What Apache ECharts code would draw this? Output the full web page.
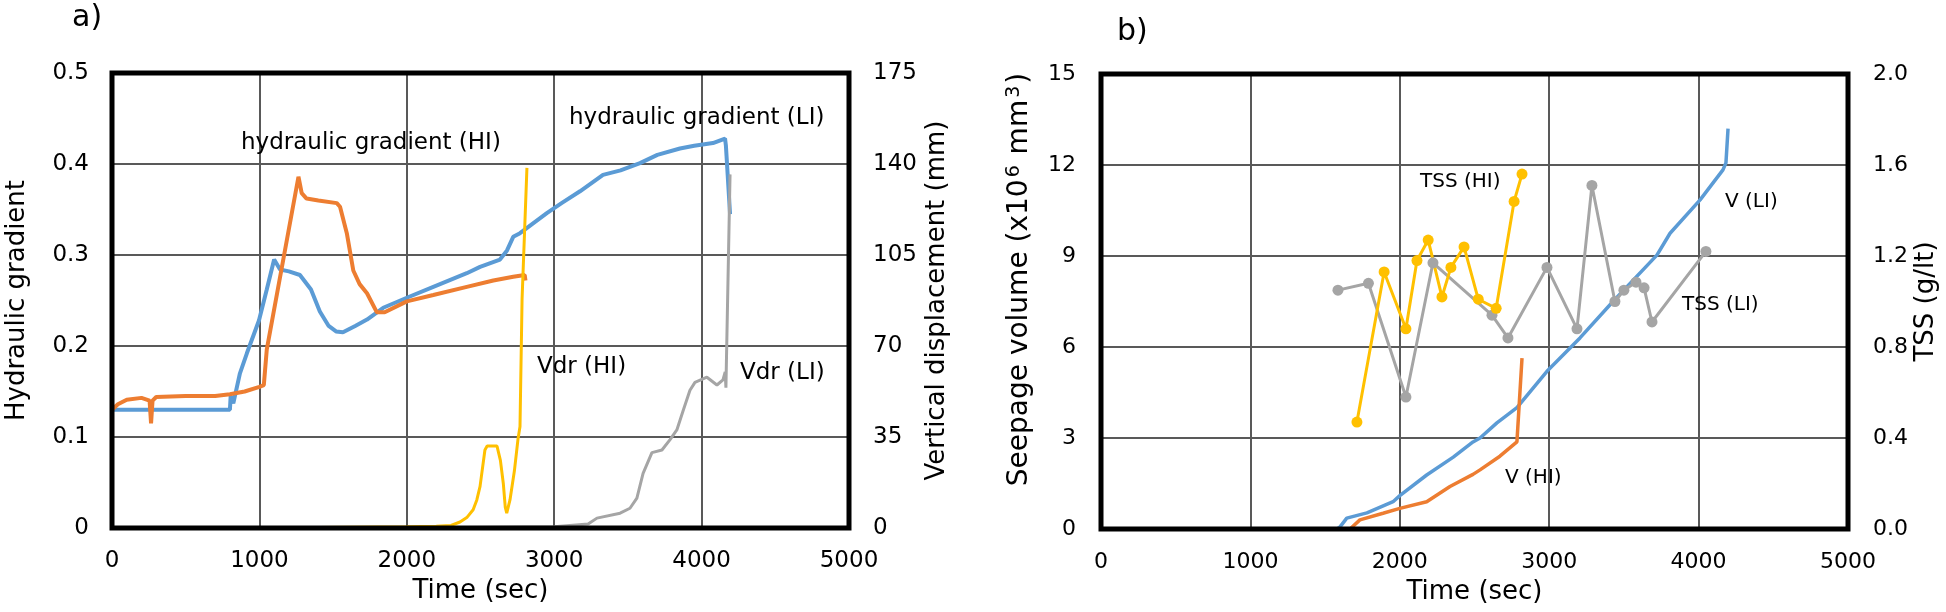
<!DOCTYPE html>
<html><head><meta charset="utf-8">
<script src="https://cdn.jsdelivr.net/npm/echarts@6/dist/echarts.min.js"></script>
<style>html,body{margin:0;padding:0;background:#fff}#c{width:1946px;height:612px}</style>
</head><body><div id="c"></div>
<script>
// ---------- Panel a) ----------
const timeGradLI = [0, 800, 805, 823, 868, 915, 997, 1050, 1100, 1140, 1200, 1275, 1350, 1410, 1470, 1520, 1567, 1650, 1730, 1840, 2000, 2180, 2407, 2497, 2632, 2680, 2722, 2768, 2850, 2950, 3050, 3175, 3331, 3450, 3582, 3700, 3853, 3950, 4077, 4159, 4165, 4193];
const gradLI     = [0.13, 0.13, 0.145, 0.137, 0.17, 0.192, 0.228, 0.262, 0.295, 0.284, 0.282, 0.278, 0.262, 0.238, 0.222, 0.216, 0.215, 0.222, 0.229, 0.242, 0.253, 0.265, 0.28, 0.287, 0.295, 0.305, 0.32, 0.324, 0.334, 0.346, 0.357, 0.37, 0.388, 0.393, 0.401, 0.41, 0.417, 0.42, 0.423, 0.428, 0.42, 0.345];

const timeGradHI = [0, 40, 100, 200, 255, 265, 275, 300, 500, 700, 800, 900, 1000, 1030, 1050, 1265, 1287, 1320, 1400, 1525, 1547, 1593, 1637, 1680, 1730, 1797, 1850, 2000, 2180, 2407, 2587, 2722, 2800, 2805];
const gradHI     = [0.13, 0.136, 0.141, 0.143, 0.14, 0.115, 0.14, 0.144, 0.145, 0.145, 0.147, 0.15, 0.155, 0.157, 0.196, 0.386, 0.368, 0.362, 0.36, 0.357, 0.353, 0.324, 0.283, 0.268, 0.258, 0.237, 0.237, 0.249, 0.256, 0.265, 0.272, 0.276, 0.278, 0.272];

const timeVdrHI = [0, 1000, 2000, 2200, 2300, 2361, 2407, 2450, 2475, 2497, 2530, 2545, 2612, 2635, 2655, 2668, 2678, 2700, 2730, 2754, 2768, 2782, 2815];
const vdrHI     = [0, 0, 0.5, 0.7, 1, 2.3, 4, 7, 10.8, 16, 30, 31.5, 31.5, 26, 17, 8, 5.7, 10.8, 22, 34, 39, 88, 138.5];

const timeVdrLI = [0, 2000, 3000, 3230, 3290, 3447, 3514, 3561, 3603, 3663, 3731, 3786, 3832, 3874, 3921, 3955, 4036, 4104, 4145, 4160, 4165, 4193];
const vdrLI     = [0, 0, 0.5, 1.5, 3.8, 5.7, 7.6, 11.5, 21, 29, 30, 34, 37.7, 45, 53, 56, 58, 55, 57, 60, 54, 136];

// ---------- Panel b) ----------
const timeVLI = [0, 1580, 1600, 1645, 1780, 1955, 2000, 2180, 2358, 2490, 2537, 2650, 2784, 2985, 3206, 3427, 3721, 3809, 4010, 4163, 4183, 4197];
const vLI     = [0, 0, 0.07, 0.36, 0.53, 0.9, 1.1, 1.78, 2.37, 2.87, 3.0, 3.5, 4.0, 5.2, 6.3, 7.5, 9.03, 9.75, 10.85, 11.84, 12.07, 13.2];

const timeVHI = [0, 1667, 1733, 1888, 2000, 2180, 2336, 2490, 2537, 2670, 2784, 2818];
const vHI     = [0, 0, 0.3, 0.52, 0.68, 0.9, 1.4, 1.8, 1.95, 2.4, 2.87, 5.63];

const timeTSSHI = [1713, 1895, 2041, 2115, 2190, 2282, 2342, 2430, 2525, 2645, 2765, 2818];
const tssHI     = [0.47, 1.13, 0.88, 1.18, 1.27, 1.02, 1.15, 1.24, 1.01, 0.97, 1.44, 1.56];

const timeTSSLI = [1586, 1790, 2041, 2222, 2617, 2724, 2985, 3186, 3286, 3440, 3500, 3581, 3635, 3688, 4049];
const tssLI     = [1.05, 1.08, 0.58, 1.17, 0.94, 0.84, 1.15, 0.88, 1.51, 1.0, 1.05, 1.085, 1.06, 0.91, 1.22];

const FONT = 'DejaVu Sans';
const BLUE = '#5B9BD5', ORANGE = '#ED7D31', YELLOW = '#FFC000', GRAY = '#A5A5A5';
const pairs = (xs, ys) => xs.map((x, i) => [x, ys[i]]);

const chart = echarts.init(document.getElementById('c'), null, {renderer: 'canvas'});

function xAx(gi, fs) {
  return {
    gridIndex: gi, type: 'value', min: 0, max: 5000, interval: 1000,
    name: 'Time (sec)', nameLocation: 'middle', nameGap: 50,
    nameTextStyle: {fontFamily: FONT, fontSize: 26, color: '#000'},
    axisLine: {show: false}, axisTick: {show: false},
    axisLabel: {fontFamily: FONT, fontSize: fs, color: '#000', margin: 22, formatter: v => String(v)},
    splitLine: {show: true, showMinLine: false, showMaxLine: false, lineStyle: {color: '#595959', width: 2}}
  };
}
function yAx(gi, pos, min, max, interval, name, gap, fs, margin, fmt, split, nameStyle) {
  return {
    gridIndex: gi, type: 'value', position: pos, min: min, max: max, interval: interval,
    name: name, nameLocation: 'middle', nameGap: gap, nameMoveOverlap: false,
    nameTextStyle: nameStyle || {fontFamily: FONT, fontSize: 26, color: '#000'},
    axisLine: {show: false}, axisTick: {show: false},
    axisLabel: {fontFamily: FONT, fontSize: fs, color: '#000', margin: margin, formatter: fmt},
    splitLine: {show: split, showMinLine: false, showMaxLine: false, lineStyle: {color: '#595959', width: 2}}
  };
}

const lineS = (xi, yi, data, color, w) => ({
  type: 'line', xAxisIndex: xi, yAxisIndex: yi, data: data, showSymbol: false, symbol: 'none',
  lineStyle: {color: color, width: w}, itemStyle: {color: color}, silent: true
});
const dotS = (xi, yi, data, color) => ({
  type: 'line', xAxisIndex: xi, yAxisIndex: yi, data: data, symbol: 'circle', symbolSize: 11, showSymbol: true,
  lineStyle: {color: color, width: 3}, itemStyle: {color: color}, silent: true
});

const txt = (text, x, y, fs) => ({
  type: 'text', x: x, y: y, z: 100,
  style: {text: text, fontFamily: FONT, fontSize: fs, fill: '#000', verticalAlign: 'middle', align: 'left'}
});

const seepageNameStyle = {
  fontFamily: FONT, fontSize: 28, color: '#000', padding: [0, 0, 0, 44],
  rich: {
    sup: {fontFamily: FONT, fontSize: 19, color: '#000', verticalAlign: 'top', lineHeight: 30, padding: [0, 2, 10, 2]}
  }
};

chart.setOption({
  animation: false,
  backgroundColor: '#fff',
  grid: [
    {left: 112, top: 73, width: 737, height: 455, show: true, borderColor: '#000', borderWidth: 5, backgroundColor: 'transparent', z: 10},
    {left: 1101, top: 74, width: 747, height: 455, show: true, borderColor: '#000', borderWidth: 5, backgroundColor: 'transparent', z: 10}
  ],
  xAxis: [xAx(0, 23), xAx(1, 22)],
  yAxis: [
    yAx(0, 'left', 0, 0.5, 0.1, 'Hydraulic gradient', 82, 23, 23, v => v === 0 ? '0' : v.toFixed(1), true),
    yAx(0, 'right', 0, 175, 35, 'Vertical displacement (mm)', 75, 23, 24, v => String(Math.round(v)), false),
    yAx(1, 'left', 0, 15, 3, 'Seepage volume (x10{sup|6} mm{sup|3})', 66, 22, 25, v => String(Math.round(v)), true, seepageNameStyle),
    yAx(1, 'right', 0, 2, 0.4, 'TSS (g/lt)', 65, 22, 25, v => v.toFixed(1), false)
  ],
  series: [
    lineS(0, 0, pairs(timeGradLI, gradLI), BLUE, 4),
    lineS(0, 0, pairs(timeGradHI, gradHI), ORANGE, 4),
    lineS(0, 1, pairs(timeVdrHI, vdrHI), YELLOW, 3),
    lineS(0, 1, pairs(timeVdrLI, vdrLI), GRAY, 3),
    lineS(1, 2, pairs(timeVLI, vLI), BLUE, 3.5),
    lineS(1, 2, pairs(timeVHI, vHI), ORANGE, 3.5),
    dotS(1, 3, pairs(timeTSSLI, tssLI), GRAY),
    dotS(1, 3, pairs(timeTSSHI, tssHI), YELLOW)
  ],
  graphic: [
    txt('a)', 72, 18, 30),
    txt('b)', 1117, 32, 30),
    txt('hydraulic gradient (HI)', 241, 143, 23),
    txt('hydraulic gradient (LI)', 569, 118, 23),
    txt('Vdr (HI)', 537, 367, 23),
    txt('Vdr (LI)', 740, 373, 23),
    txt('TSS (HI)', 1420, 182, 20),
    txt('V (LI)', 1725, 202, 20),
    txt('TSS (LI)', 1682, 305, 20),
    txt('V (HI)', 1505, 478, 20)
  ]
});
</script></body></html>
